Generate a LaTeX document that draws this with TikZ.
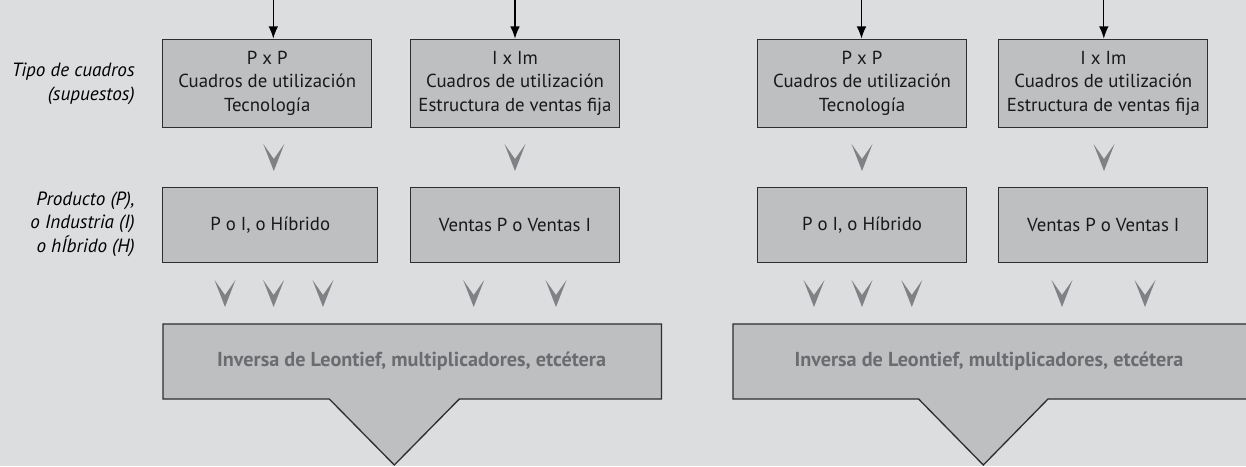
\documentclass[tikz,border=0pt]{standalone}
\usepackage{fontspec}
\setmainfont{PT Sans}
\usetikzlibrary{arrows.meta}
\definecolor{fondo}{HTML}{DCDDDF}
\definecolor{caja}{HTML}{BEBFC1}
\definecolor{borde}{HTML}{2E2E2E}
\definecolor{cheuron}{HTML}{808184}
\definecolor{letra}{HTML}{6B6C6F}

\begin{document}
\begin{tikzpicture}[x=0.02cm, y=-0.02cm,
  caja/.style={draw=borde, line width=0.75pt, fill=caja, inner sep=0pt, align=center,
    text=black!90, font=\fontsize{10.7}{13.4}\selectfont},
  fila1/.style={caja, minimum width=4.18cm, minimum height=1.76cm},
  fila2/.style={caja, minimum width=4.18cm, minimum height=1.51cm},
  etiq/.style={anchor=east, align=right, inner sep=0pt, font=\fontsize{10.9}{13.4}\selectfont\itshape},
  flecha/.style={line width=0.75pt, -{Latex[length=7pt,width=5.5pt]}},
  inversa/.style={fill=caja, draw=borde, line width=0.75pt, line join=miter},
  invtexto/.style={text=letra, font=\fontsize{11.5}{13.4}\selectfont\bfseries}]
\fill[fondo] (0,0) rectangle (1246,466);
\useasboundingbox (0,0) rectangle (1246,466);

\node[etiq] (tipo) at (135,84) {Tipo de cuadros\\(supuestos)};
\node[etiq] (prod) at (135,224) {Producto (P),\\o Industria (I)\\o hÍbrido (H)};

\node[fila1] (pxpA) at (267.2,83.3) {P x P\\Cuadros de utilización\\Tecnología};
\node[fila1] (ixmA) at (515,83.3) {I x Im\\Cuadros de utilización\\Estructura de ventas fija};
\node[fila1] (pxpB) at (862,83.3) {P x P\\Cuadros de utilización\\Tecnología};
\node[fila1] (ixmB) at (1103.3,83.3) {I x Im\\Cuadros de utilización\\Estructura de ventas fija};

\node[fila2, minimum width=4.3cm] (poiA) at (270.2,225) {P o I, o Híbrido};
\node[fila2] (ventA) at (515,225) {Ventas P o Ventas I};
\node[fila2] (poiB) at (862,225) {P o I, o Híbrido};
\node[fila2] (ventB) at (1103.3,225) {Ventas P o Ventas I};

\coordinate (inA) at (273.3,0);
\coordinate (inB) at (515,0);
\coordinate (inC) at (861.5,0);
\coordinate (inD) at (1103.8,0);
\draw[flecha] (inA) -- (inA |- pxpA.north);
\draw[flecha] (inB) -- (inB |- ixmA.north);
\draw[flecha] (inC) -- (inC |- pxpB.north);
\draw[flecha] (inD) -- (inD |- ixmB.north);

\foreach \x/\y in {273.8/144, 515/144, 862/144, 1104/144,
  225/280, 273.6/280, 323/280, 473.7/280, 556/280,
  814/280, 862/280, 911.8/280, 1062/280, 1145/280}
\fill[cheuron] (\x,\y) ++(-10.5,0) -- ++(10.5,15) -- ++(10.5,-15) -- ++(-10.5,27) -- cycle;

\draw[inversa] (163,324) -- (661.5,324) -- (661.5,399) -- (459.3,399) -- (394.3,465)
  -- (329.3,399) -- (163,399) -- cycle;
\draw[inversa] (733,324) -- (1250,324) -- (1250,399) -- (1048,399) -- (983.3,465)
  -- (918.6,399) -- (733,399) -- cycle;
\node[invtexto] (leonA) at (411.6,361.5) {Inversa de Leontief, multiplicadores, etcétera};
\node[invtexto] (leonB) at (989,361.5) {Inversa de Leontief, multiplicadores, etcétera};
\end{tikzpicture}
\end{document}
